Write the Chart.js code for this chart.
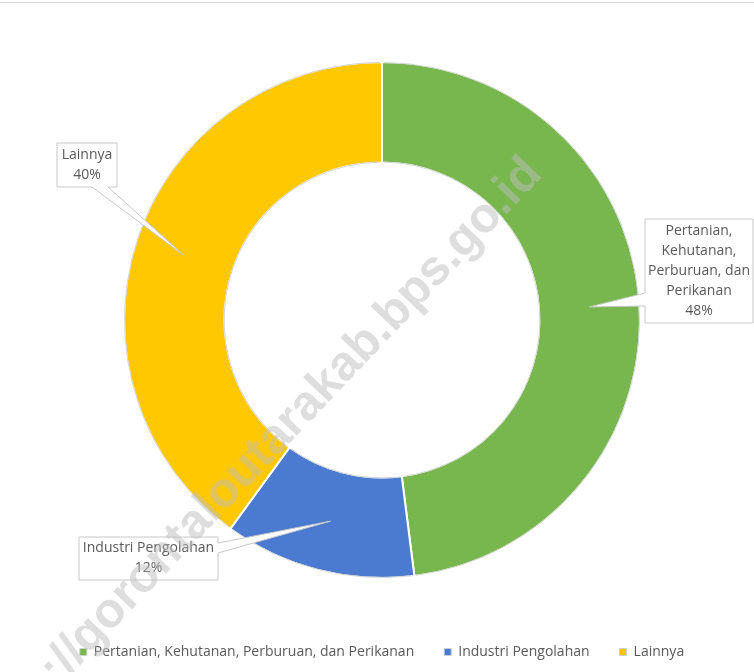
<!DOCTYPE html>
<html lang="id">
<head>
  <meta charset="UTF-8" />
  <title>Struktur PDRB</title>
  <script src="https://cdn.jsdelivr.net/npm/chart.js@4.4.0/dist/chart.umd.min.js"></script>
  <style>
    html, body { margin: 0; padding: 0; background: #fff; }
    #wrap { width: 754px; height: 672px; }
  </style>
</head>
<body>
  <div id="wrap"><canvas id="pdrb" width="754" height="672"></canvas></div>
  <script>
    const categories = ['Pertanian, Kehutanan, Perburuan, dan Perikanan', 'Industri Pengolahan', 'Lainnya'];
    const shares = [48, 12, 40];
    const calloutLines = [
      ['Pertanian,', 'Kehutanan,', 'Perburuan, dan', 'Perikanan'],
      ['Industri Pengolahan'],
      ['Lainnya']
    ];
    const colors = ['#78B74D', '#4A7BD0', '#FFC800'];

    // callout boxes (layout only), pointer tip comes from the arc element
    const boxes = [
      { x: 645, y: 219, w: 108, h: 104, side: 'left', a: 293, b: 306 },
      { x: 79, y: 537, w: 139, h: 43, side: 'right', a: 543, b: 553 },
      { x: 57, y: 143, w: 60, h: 44, side: 'bottom', a: 92, b: 108 }
    ];

    const FONT = "'Open Sans', 'Noto Sans', sans-serif";
    const GREY = '#595959';

    function calloutPath(ctx, bx, tip) {
      const L = bx.x, T = bx.y, R = bx.x + bx.w, B = bx.y + bx.h;
      ctx.beginPath();
      if (bx.side === 'left') {
        ctx.moveTo(L, T); ctx.lineTo(R, T); ctx.lineTo(R, B); ctx.lineTo(L, B);
        ctx.lineTo(L, bx.b); ctx.lineTo(tip.x, tip.y); ctx.lineTo(L, bx.a);
      } else if (bx.side === 'right') {
        ctx.moveTo(R, B); ctx.lineTo(L, B); ctx.lineTo(L, T); ctx.lineTo(R, T);
        ctx.lineTo(R, bx.a); ctx.lineTo(tip.x, tip.y); ctx.lineTo(R, bx.b);
      } else {
        ctx.moveTo(L, B); ctx.lineTo(L, T); ctx.lineTo(R, T); ctx.lineTo(R, B);
        ctx.lineTo(bx.b, B); ctx.lineTo(tip.x, tip.y); ctx.lineTo(bx.a, B);
      }
      ctx.closePath();
    }

    const decor = {
      id: 'decor',
      afterDatasetsDraw(chart) {
        const ctx = chart.ctx;
        const arcs = chart.getDatasetMeta(0).data;
        ctx.save();
        // thin grey rim on the ring edges
        ctx.strokeStyle = '#d4d4d4';
        ctx.lineWidth = 1;
        arcs.forEach(el => {
          const p = el.getProps(['x', 'y', 'startAngle', 'endAngle', 'outerRadius', 'innerRadius']);
          const d1 = 2 / p.outerRadius, d2 = 2 / p.innerRadius;
          ctx.beginPath();
          ctx.arc(p.x, p.y, p.outerRadius - 0.5, p.startAngle + d1, p.endAngle - d1);
          ctx.stroke();
          ctx.beginPath();
          ctx.arc(p.x, p.y, p.innerRadius + 0.5, p.startAngle + d2, p.endAngle - d2);
          ctx.stroke();
        });
        // callouts
        ctx.font = '14px ' + FONT;
        ctx.textAlign = 'center';
        ctx.textBaseline = 'middle';
        arcs.forEach((el, i) => {
          const tip = el.getCenterPoint();
          const bx = boxes[i];
          calloutPath(ctx, bx, tip);
          ctx.fillStyle = '#fff';
          ctx.fill();
          ctx.strokeStyle = '#c8c8c8';
          ctx.lineWidth = 1;
          ctx.stroke();
          const lines = calloutLines[i].concat([shares[i] + '%']);
          const lh = 20;
          const y0 = bx.y + (bx.h - lines.length * lh) / 2 + lh / 2;
          ctx.fillStyle = GREY;
          lines.forEach((t, k) => ctx.fillText(t, bx.x + bx.w / 2, y0 + k * lh));
        });
        ctx.restore();
      },
      afterDraw(chart) {
        const ctx = chart.ctx;
        ctx.save();
        // frame top line
        ctx.strokeStyle = '#d9d9d9';
        ctx.lineWidth = 1;
        ctx.beginPath();
        ctx.moveTo(0, 2.5); ctx.lineTo(754, 2.5);
        ctx.stroke();
        // watermark
        ctx.translate(534, 166);
        ctx.rotate(-46.5 * Math.PI / 180);
        ctx.font = "bold 49px 'Liberation Sans', Arial, sans-serif";
        ctx.textAlign = 'right';
        ctx.textBaseline = 'middle';
        ctx.fillStyle = 'rgba(190,190,190,0.5)';
        ctx.fillText('https://gorontaloutarakab.bps.go.id', 0, 0);
        ctx.restore();
      }
    };

    new Chart(document.getElementById('pdrb'), {
      type: 'doughnut',
      data: {
        labels: categories,
        datasets: [{
          data: shares,
          backgroundColor: colors,
          borderColor: '#fff',
          borderWidth: 2
        }]
      },
      options: {
        responsive: false,
        animation: false,
        radius: 258,
        cutout: '61%',
        layout: { padding: { top: 25, left: 10, right: 0, bottom: 3 } },
        plugins: {
          tooltip: { enabled: false },
          legend: {
            position: 'bottom',
            labels: {
              boxWidth: 7,
              boxHeight: 7,
              padding: 30,
              color: GREY,
              font: { family: FONT, size: 14 },
              generateLabels: () => categories.map((c, i) => ({
                text: c,
                fillStyle: colors[i],
                strokeStyle: '#cfcfcf',
                lineWidth: 1,
                fontColor: GREY,
                hidden: false,
                index: i
              }))
            }
          }
        }
      },
      plugins: [decor]
    });
  </script>
</body>
</html>
